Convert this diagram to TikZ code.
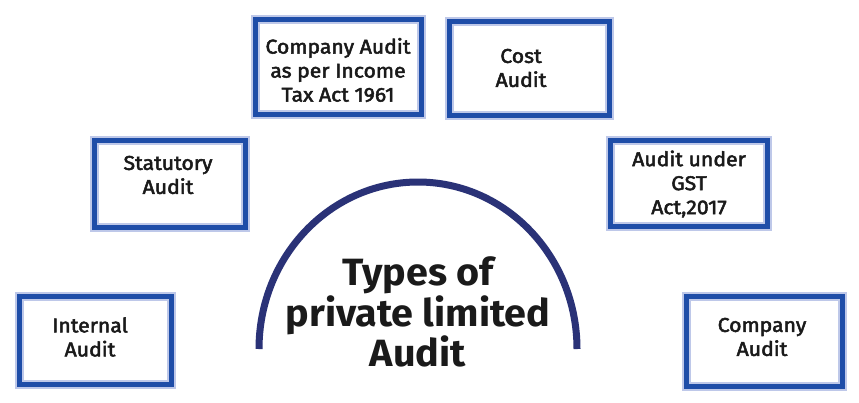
\documentclass[tikz,border=0pt]{standalone}
\usepackage{fontspec}
\setmainfont{Fira Sans}
\newfontfamily\boxfont[FakeBold=2.5,FakeStretch=1.06]{Fira Sans}
\newfontfamily\titlefont[FakeStretch=1.04]{Fira Sans}
\definecolor{boxblue}{HTML}{1E4DA8}
\definecolor{glowblue}{HTML}{6F86CF}
\definecolor{navy}{HTML}{2A3277}
\definecolor{txt}{HTML}{1A1A1A}
\begin{document}
\begin{tikzpicture}[x=1pt,y=-1pt,
  audbox/.style={draw=boxblue,line width=5pt,
    preaction={draw=glowblue,line width=9pt,opacity=0.45}},
  lbl/.style={align=center,text=txt,font=\boxfont\fontsize{20}{24}\selectfont,inner sep=0pt},
  ttl/.style={align=center,text=txt,font=\titlefont\bfseries\fontsize{38}{39}\selectfont,inner sep=0pt}]
\useasboundingbox (0,0) rectangle (859,402);
\fill[white] (0,0) rectangle (859,402);
% boxes
\draw[audbox] (255,19) rectangle coordinate[pos=0.5](bA) (421,114);
\draw[audbox] (449,21) rectangle coordinate[pos=0.5](bB) (609,115);
\draw[audbox] (94,140) rectangle coordinate[pos=0.5](bC) (245,227);
\draw[audbox] (610,140) rectangle coordinate[pos=0.5](bD) (767,226);
\draw[audbox] (19,296) rectangle coordinate[pos=0.5](bE) (171,384);
\draw[audbox] (686,296) rectangle coordinate[pos=0.5](bF) (842,386);
% labels
\node[lbl] (tA) at (338,70) {Company Audit\\as per Income\\Tax Act 1961};
\node[lbl] (tB) at (521,68) {Cost\\Audit};
\node[lbl] (tC) at (168,175) {Statutory\\Audit};
\node[lbl] (tD) at (689,184) {Audit under\\GST\\Act,2017};
\node[lbl] (tE) at (90,337) {Internal\\Audit};
\node[lbl] (tF) at (762,337) {Company\\Audit};
% arc
\coordinate (arcL) at (259,349);
\draw[navy,line width=7pt] (arcL) arc[start angle=180,end angle=360,x radius=159,y radius=167] coordinate (arcR);
\node[ttl] (title) at (418,312) {Types of\\private limited\\Audit};
\end{tikzpicture}
\end{document}
